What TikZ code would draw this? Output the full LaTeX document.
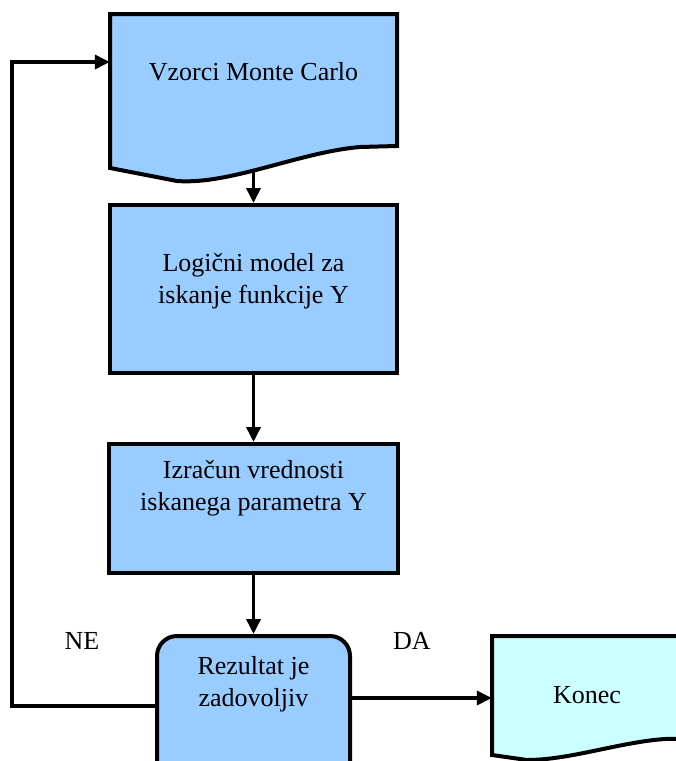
\documentclass[tikz,border=0pt]{standalone}
\usepackage{fontspec}
\setmainfont{Liberation Serif}
\usetikzlibrary{arrows.meta}
\definecolor{boxblue}{HTML}{99CCFF}
\definecolor{endcyan}{HTML}{CCFFFF}
\tikzset{
  procbox/.style={draw, line width=4pt, fill=boxblue, inner sep=0pt},
  decbox/.style={procbox, rounded corners=20pt},
  hull/.style={inner sep=0pt},
  doc/.style={draw, line width=4pt, line join=miter},
  lbl/.style={font=\fontsize{26}{32}\selectfont, align=center, inner sep=0pt},
  arr/.style={line width=3.5pt, -{Triangle[length=15pt,width=14pt]}},
}
\begin{document}
\begin{tikzpicture}[x=1pt, y=-1pt]
  \useasboundingbox (0,0) rectangle (676,761);
  \clip (0,0) rectangle (676,761);

  % Monte Carlo samples (document shape)
  \draw[doc, fill=boxblue] (110,14) -- (397,14) -- (397,146) -- (360,147)
    .. controls (300,152) and (230,185) .. (177,181) -- (110,168) -- cycle;
  \node[hull, minimum width=287pt, minimum height=158pt] (vz) at (253.5,93) {};
  \node[lbl] (vzt) at (253.5,72) {Vzorci Monte Carlo};

  % logical model
  \node[procbox, minimum width=287pt, minimum height=168pt] (lm) at (253.5,289) {};
  \node[lbl] (lmt) at (253.5,281) {Logični model za\\iskanje funkcije Y};

  % computation of the parameter
  \node[procbox, minimum width=289pt, minimum height=129pt] (iz) at (253.5,508.5) {};
  \node[lbl] (izt) at (253.5,488) {Izračun vrednosti\\iskanega parametra Y};

  % decision
  \node[decbox, minimum width=193pt, minimum height=164pt] (rz) at (253.5,718) {};
  \node[lbl] (rzt) at (253.5,684) {Rezultat je\\zadovoljiv};

  % end (document shape)
  \draw[doc, fill=endcyan] (492,636) -- (720,636) -- (720,738) -- (665,739)
    .. controls (620,742) and (570,760) .. (527,760) -- (492,755) -- cycle;
  \node[hull, minimum width=228pt, minimum height=122pt] (ko) at (606,697) {};
  \node[lbl] (kot) at (587,695) {Konec};

  % branch labels
  \node[lbl] (ne) at (82,641) {NE};
  \node[lbl] (da) at (412,641) {DA};

  % connectors
  \draw[arr] (vz.south) -- (lm.north);
  \draw[arr] (lm.south) -- (iz.north);
  \draw[arr] (iz.south) -- (rz.north);
  \coordinate (loop) at (12,62);
  \coordinate (neout) at ([yshift=-72pt]rz.north west);
  \draw[arr, line join=miter] (neout) -| (loop) -- (vz.west |- loop);
  \coordinate (daout) at ([yshift=-64pt]rz.north east);
  \draw[arr] (daout) -- (daout -| ko.west);
\end{tikzpicture}
\end{document}
